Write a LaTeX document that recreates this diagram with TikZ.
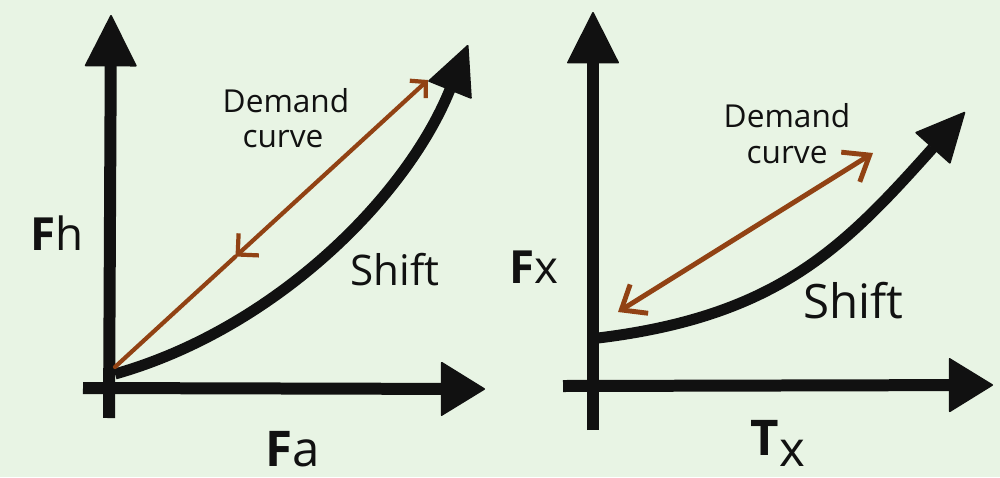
\documentclass[tikz,border=0pt]{standalone}
\usepackage{fontspec}
\setmainfont{Open Sans}
\usetikzlibrary{arrows.meta}
\definecolor{bg}{RGB}{232,244,228}
\definecolor{ink}{RGB}{17,17,17}
\definecolor{rust}{RGB}{145,66,20}
\begin{document}
\begin{tikzpicture}[x=0.02cm,y=-0.02cm,
  axisv/.style={line width=0.24cm, draw=ink, -{Triangle[length=1.05cm,width=1.05cm,line width=1pt,round]}},
  axish/.style={line width=0.24cm, draw=ink, -{Triangle[length=0.9cm,width=1.1cm,line width=1pt,round]}},
  shiftcurve/.style={line width=0.22cm, draw=ink, -{Triangle[length=1cm,width=0.95cm,line width=1pt,round]}},
  demandL/.style={line width=2.4pt, draw=rust, line cap=round},
  demandR/.style={line width=2.8pt, draw=rust, line cap=round},
  lbl/.style={text=ink, inner sep=0pt, anchor=base},
  small/.style={lbl, font=\fontsize{18}{18}\selectfont},
]
\useasboundingbox (0,0) rectangle (1000,477);
\fill[bg] (0,0) rectangle (1000,477);

% ---------- left plot ----------
\coordinate (LyB) at (109,418);
\coordinate (LyT) at (111,15);
\coordinate (LxL) at (83,388);
\coordinate (LxR) at (485,389);
\draw[axisv] (LyB) -- (LyT);
\draw[axish] (LxL) -- (LxR);

\coordinate (LcS) at (115,374);
\coordinate (LcE) at (468,45);
\coordinate (Lc1) at (274,329);
\coordinate (Lc2) at (406,198);
\draw[shiftcurve] (LcS) .. controls (Lc1) and (Lc2) .. (LcE);

\coordinate (LoA) at (115,367);
\coordinate (LoM) at (235.5,256.5);
\coordinate (LoB) at (428,80);
\draw[demandL] (LoM) -- (LoA);
\draw[demandL, {Straight Barb[length=0.3cm,width=0.6cm]}-{Straight Barb[length=0.22cm,width=0.47cm]}] (LoM) -- (LoB);

\node[small] (Ld1) at (286,112) {Demand};
\node[small] (Ld2) at (283,147) {curve};
\node[lbl, font=\fontsize{24}{24}\selectfont] (Ls) at (395,285) {Shift};
\node[lbl, font=\fontsize{26}{26}\selectfont] (Ly) at (57,250) {\textbf{F}h};
\node[lbl, font=\fontsize{28}{28}\selectfont] (Lx) at (293,466) {\textbf{F}a};

% ---------- right plot ----------
\coordinate (RyB) at (593,430);
\coordinate (RyT) at (593,12);
\coordinate (RxL) at (563,386);
\coordinate (RxR) at (993,385);
\draw[axisv] (RyB) -- (RyT);
\draw[axish] (RxL) -- (RxR);

\coordinate (RcS) at (598,338);
\coordinate (RcE) at (965,112);
\coordinate (Rc1) at (779,316);
\coordinate (Rc2) at (845,246);
\draw[shiftcurve] (RcS) .. controls (Rc1) and (Rc2) .. (RcE);

\coordinate (RoA) at (618,312);
\coordinate (RoB) at (873,153);
\draw[demandR, {Straight Barb[length=0.42cm,width=0.68cm]}-{Straight Barb[length=0.45cm,width=0.7cm]}] (RoA) -- (RoB);

\node[small] (Rd1) at (787,127) {Demand};
\node[small] (Rd2) at (787,163) {curve};
\node[lbl, font=\fontsize{27}{27}\selectfont] (Rs) at (853,318) {Shift};
\node[lbl, font=\fontsize{26}{26}\selectfont] (Ry) at (534,283) {\textbf{F}x};
\node[lbl, font=\fontsize{28}{28}\selectfont] (Rx) at (778,455) {\textbf{T}\kern0.02em\raisebox{-0.24em}{x}};
\end{tikzpicture}
\end{document}
